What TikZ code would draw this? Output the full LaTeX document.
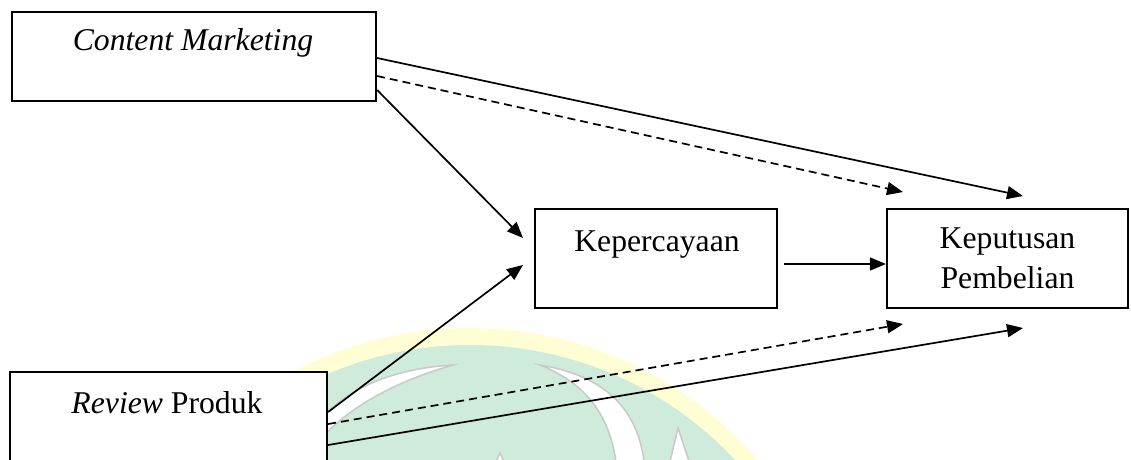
\documentclass[tikz,border=0pt]{standalone}
\usepackage{fontspec}
\setmainfont{Liberation Serif}
\usetikzlibrary{arrows.meta}
\definecolor{wmyellow}{HTML}{FFFDD4}
\definecolor{wmgreen}{HTML}{CFEBDB}
\definecolor{wmgray}{HTML}{C9C9C9}
\tikzset{
  box/.style={draw, line width=2.2pt, fill=white, inner sep=0pt},
  lbl/.style={font=\fontsize{31.7}{40}\selectfont, inner sep=0pt, align=center},
  conn/.style={line width=1.7pt, -{Triangle[length=16pt,width=13pt]}},
  dconn/.style={conn, dash pattern=on 8pt off 5pt},
  wmline/.style={draw=wmgray, line width=1.5pt, fill=white}
}
\begin{document}
\begin{tikzpicture}[x=1pt,y=-1pt]
\useasboundingbox (0,0) rectangle (1131,459);
\clip (0,0) rectangle (1131,459);
% watermark
\fill[wmyellow] (470,708) circle[radius=380];
\fill[wmgreen] (470,708) circle[radius=363];
\path[wmline] (540,365) .. controls (600,375) and (640,405) .. (645,470)
  -- (617,470) .. controls (612,420) and (590,385) .. cycle;
\path[wmline] (453,365) .. controls (400,368) and (350,385) .. (320,420)
  -- (320,440) .. controls (350,405) and (400,380) .. cycle;
\path[wmline] (678,428) -- (692,470) -- (668,470) -- cycle;
\path[wmline] (500,453) -- (508,470) -- (492,470) -- cycle;
% boxes
\node[box, minimum width=364, minimum height=89] (cm) at (194,56.5) {};
\node[lbl] (cmt) at (193,43) {\textit{Content Marketing}};
\node[box, minimum width=242, minimum height=99] (kp) at (656,258.5) {};
\node[lbl] (kpt) at (657,245) {Kepercayaan};
\node[box, minimum width=241, minimum height=99, lbl, draw] (kpb) at (1007.5,258.5) {Keputusan\\Pembelian};
\node[box, minimum width=317, minimum height=120] (rp) at (168.5,432) {};
\node[lbl] (rpt) at (167,403) {\textit{Review} Produk};
% arrow tips
\coordinate (t1) at (1023,196);
\coordinate (t2) at (903,192);
\coordinate (t3) at (523,238);
\coordinate (t4) at (523,265);
\coordinate (t5) at (903,324);
\coordinate (t6) at (1023,328);
% connectors
\draw[conn] ([yshift=-1.5pt]cm.east) -- (t1);
\draw[dconn] ([yshift=-19.5pt]cm.east) -- (t2);
\draw[conn] ([yshift=-33.5pt]cm.east) -- (t3);
\draw[conn] ([xshift=6pt,yshift=-5.5pt]kp.east) -- ([yshift=-5.5pt]kpb.west);
\draw[conn] ([yshift=20pt]rp.east) -- (t4);
\draw[dconn] ([yshift=8pt]rp.east) -- (t5);
\draw[conn] ([yshift=-13pt]rp.east) -- (t6);
\end{tikzpicture}
\end{document}
